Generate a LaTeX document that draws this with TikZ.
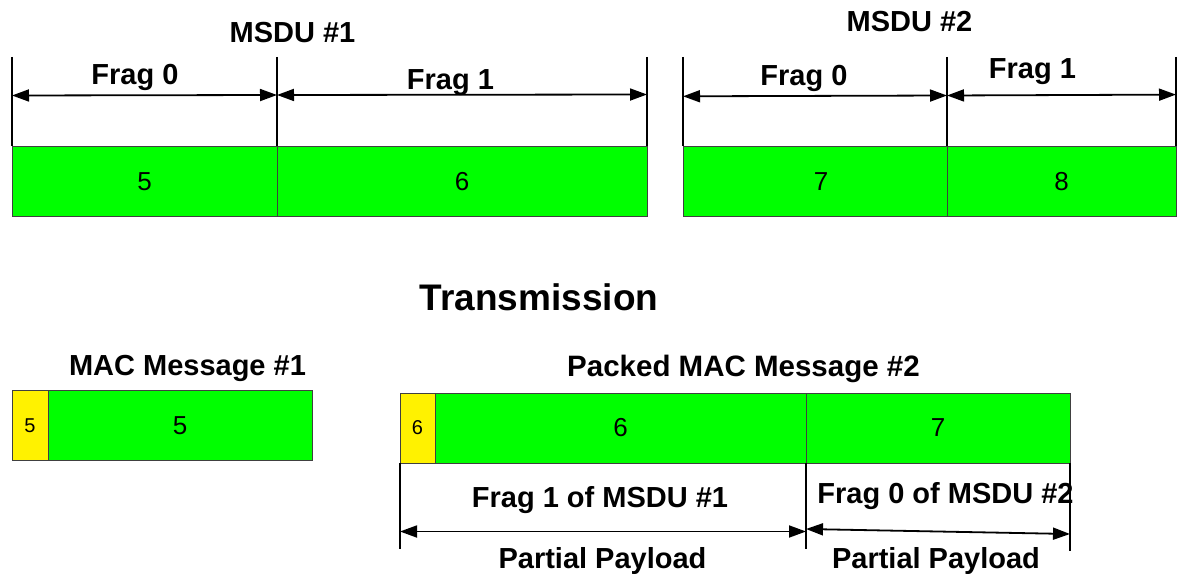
\documentclass[tikz,border=0pt]{standalone}
\usepackage{fontspec}
\setmainfont{Liberation Sans}
\usetikzlibrary{arrows.meta}
\begin{document}
\begin{tikzpicture}[x=1pt,y=-1pt,
  payload/.style={draw=black!75, line width=0.8pt, fill=green, outer sep=0pt, inner sep=0pt,
    minimum height=70pt, minimum width=#1, font=\fontsize{26}{30}\selectfont},
  hdr/.style={draw=black!75, line width=0.8pt, fill=yellow, outer sep=0pt, inner sep=0pt,
    minimum height=70pt, minimum width=#1, font=\fontsize{20}{24}\selectfont},
  lbl/.style={anchor=base, inner sep=0pt, font=\fontsize{29}{34}\selectfont\bfseries},
  tickline/.style={line width=1.6pt},
  span/.style={line width=1.8pt, {Triangle[length=17pt,width=12pt]}-{Triangle[length=17pt,width=12pt]}}]
\useasboundingbox (0,0) rectangle (1178,575);
\node[payload=265pt] (b5) at (144.5,181.5) {5};
\node[payload=370pt] (b6) at (462,181.5) {6};
\node[payload=264pt] (b7) at (815,181.5) {\hspace{12pt}7};
\node[payload=229pt] (b8) at (1061.5,181.5) {8};
\coordinate (tA) at (12,57);
\coordinate (tB) at (277,57);
\coordinate (tC) at (647,57);
\coordinate (tD) at (683,57);
\coordinate (tE) at (947,57);
\coordinate (tF) at (1176,57);
\draw[tickline] (tA) -- (b5.north west);
\draw[tickline] (tB) -- (b5.north east);
\draw[tickline] (tC) -- (b6.north east);
\draw[tickline] (tD) -- (b7.north west);
\draw[tickline] (tE) -- (b7.north east);
\draw[tickline] (tF) -- (b8.north east);
\coordinate (aA) at (12,95.5);
\coordinate (aB) at (277,95);
\coordinate (aC) at (647,94.5);
\coordinate (aD) at (683,96.3);
\coordinate (aE) at (947,95.5);
\coordinate (aF) at (1176,94.6);
\draw[span] (aA) -- (aB);
\draw[span] (aB) -- (aC);
\draw[span] (aD) -- (aE);
\draw[span] (aE) -- (aF);
\node[lbl] (msduA) at (292.5,43) {MSDU \#1};
\node[lbl] (msduB) at (909.5,32) {MSDU \#2};
\node[lbl] (fragA0) at (135,85) {Frag 0};
\node[lbl] (fragA1) at (450.5,90) {Frag 1};
\node[lbl] (fragB0) at (804,85.5) {Frag 0};
\node[lbl] (fragB1) at (1032.5,79) {Frag 1};
\node[lbl, font=\fontsize{37}{42}\selectfont\bfseries] (tx) at (539,310) {Transmission};
\node[lbl] (macA) at (187.5,375) {MAC Message \#1};
\node[hdr=36pt] (h5) at (30,425.5) {5};
\node[payload=264pt] (p5) at (180,425.5) {5};
\node[lbl, font=\fontsize{29.5}{34}\selectfont\bfseries] (macB) at (743.5,376) {Packed MAC Message \#2};
\node[hdr=35pt] (h6) at (417.5,428) {6};
\node[payload=371pt] (p6) at (620.5,428) {6};
\node[payload=264pt] (p7) at (938,428) {7};
\coordinate (uA) at (400,549);
\coordinate (uB) at (806,549);
\coordinate (uC) at (1070,551);
\draw[tickline] (h6.south west) -- (uA);
\draw[tickline] (p6.south east) -- (uB);
\draw[tickline] (p7.south east) -- (uC);
\coordinate (vA) at (400,531.5);
\coordinate (vB) at (806,531.5);
\coordinate (vB2) at (806,529);
\coordinate (vC) at (1070,534);
\draw[span] (vA) -- (vB);
\draw[span] (vB2) -- (vC);
\node[lbl] (ofA) at (600,507.5) {Frag 1 of MSDU \#1};
\node[lbl] (ofB) at (945.5,503) {Frag 0 of MSDU \#2};
\node[lbl] (ppA) at (602.5,568) {Partial Payload};
\node[lbl] (ppB) at (936,568) {Partial Payload};
\end{tikzpicture}
\end{document}
